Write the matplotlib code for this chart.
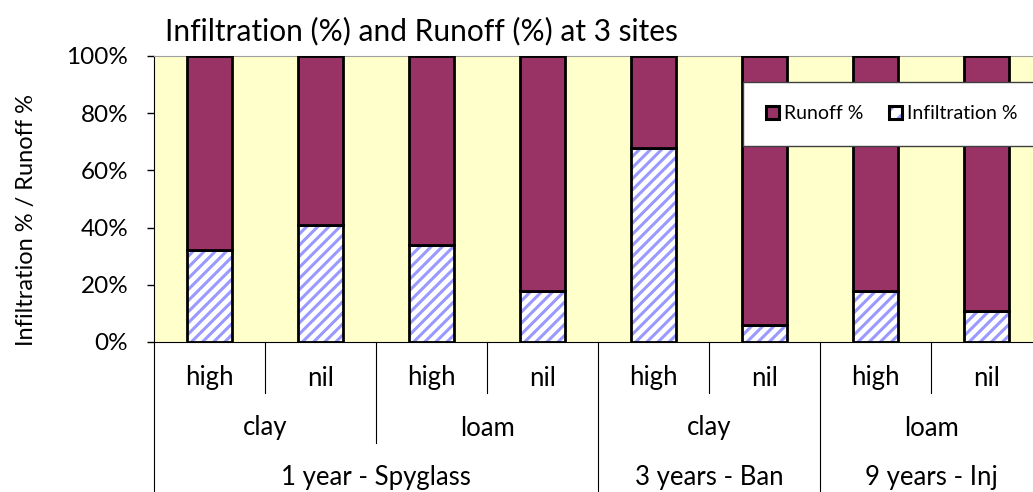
import matplotlib
matplotlib.use("Agg")
import matplotlib.pyplot as plt
from matplotlib.patches import Patch
from matplotlib.legend_handler import HandlerTuple
from matplotlib.transforms import blended_transform_factory

plt.rcParams['font.family'] = ['Lato', 'DejaVu Sans']
plt.rcParams['hatch.linewidth'] = 2.2

treatments = ["high", "nil", "high", "nil", "high", "nil", "high", "nil"]
soils = ["clay", "loam", "clay", "loam"]
soil_spans = [2, 2, 2, 2]
sites = ["1 year - Spyglass", "3 years - Ban", "9 years - Inj"]
site_spans = [4, 2, 2]
infiltration = [32, 41, 34, 18, 68, 6, 18, 11]
runoff = [100 - v for v in infiltration]

FS = 18.5

fig = plt.figure(figsize=(10.33, 4.92), dpi=100)
W, H = 1033, 492
x0, x1, ytop, ybot = 154, 1042, 56, 342
ax = fig.add_axes([x0 / W, (H - ybot) / H, (x1 - x0) / W, (ybot - ytop) / H])
ax.set_facecolor('#FFFFCC')

n = len(treatments)
xs = list(range(n))
bw = 0.41
ax.bar(xs, infiltration, width=bw, color='white', edgecolor='#9999FF', hatch='///', linewidth=0, zorder=2)
ax.bar(xs, infiltration, width=bw, fill=False, edgecolor='black', linewidth=2, zorder=3)
ax.bar(xs, runoff, bottom=infiltration, width=bw, color='#993366', edgecolor='black', linewidth=2, zorder=3)

ax.set_xlim(-0.5, n - 0.5)
ax.set_ylim(0, 100)
ax.set_yticks([0, 20, 40, 60, 80, 100])
ax.set_yticklabels([f"{v}%" for v in [0, 20, 40, 60, 80, 100]], fontsize=17.5)
ax.tick_params(axis='y', length=5, width=1, color='black', direction='out', pad=13.5)
ax.set_xticks([])
for s in ['top', 'right']:
    ax.spines[s].set_color('#A0A0A0')
ax.spines['left'].set_color('black')
ax.spines['bottom'].set_color('black')
ax.set_ylabel("Infiltration % / Runoff %", fontsize=17)
ax.yaxis.set_label_coords((37 - x0) / (x1 - x0), (ybot - 220) / (ybot - ytop))

# Multi-level category axis
tr = blended_transform_factory(ax.transData, ax.transAxes)
def yfrac(py):
    return (ybot - py) / (ybot - ytop)

row_y = [yfrac(378), yfrac(428), yfrac(477)]
short_end, mid_end, full_end = yfrac(393), yfrac(443), yfrac(492)

for i, t in enumerate(treatments):
    ax.text(i, row_y[0], t, transform=tr, ha='center', va='center', fontsize=FS)

boundaries = {}
for i in range(n + 1):
    boundaries[i] = short_end
pos = 0
for sp in soil_spans:
    pos += sp
    boundaries[pos] = mid_end
boundaries[0] = full_end
pos = 0
for sp in site_spans:
    pos += sp
    boundaries[pos] = full_end

pos = 0
for s, sp in zip(soils, soil_spans):
    ax.text(pos + sp / 2 - 0.5, row_y[1], s, transform=tr, ha='center', va='center', fontsize=FS)
    pos += sp
pos = 0
for s, sp in zip(sites, site_spans):
    ax.text(pos + sp / 2 - 0.5, row_y[2], s, transform=tr, ha='center', va='center', fontsize=FS)
    pos += sp

for b, yend in boundaries.items():
    ax.plot([b - 0.5, b - 0.5], [0, yend], transform=tr, color='black', lw=0.8, clip_on=False)

h_run = Patch(facecolor='#993366', edgecolor='black', linewidth=2.2)
h_inf = (Patch(facecolor='white', edgecolor='#9999FF', hatch='//', linewidth=0),
         Patch(fill=False, edgecolor='black', linewidth=2.2))
leg = ax.legend([h_run, h_inf], ["Runoff %", "Infiltration %"], loc='upper left',
                handler_map={tuple: HandlerTuple(ndivide=1, pad=0)},
                bbox_to_anchor=((743 - x0) / (x1 - x0), yfrac(82)), ncol=2, fontsize=14,
                frameon=True, fancybox=False, edgecolor='#404040', framealpha=1,
                handlelength=0.67, handleheight=0.67, handletextpad=0.25, columnspacing=1.3,
                borderpad=1.2, borderaxespad=0)
leg.get_frame().set_linewidth(1)
leg.set_zorder(5)

fig.text(165 / W, 1 - 31 / H, "Infiltration (%) and Runoff (%) at 3 sites", fontsize=21.5,
         ha='left', va='center')

fig.savefig("out.png", dpi=100)
